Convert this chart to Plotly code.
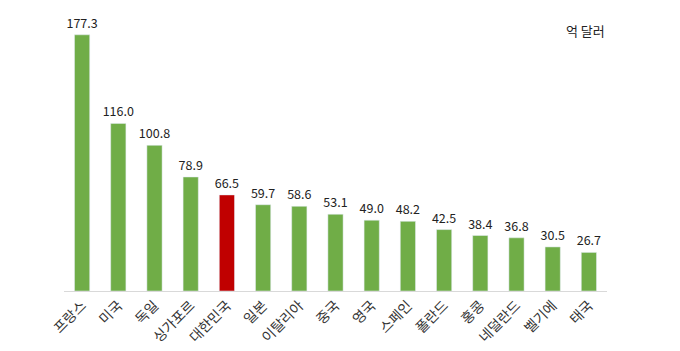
import plotly.graph_objects as go

countries = ["프랑스", "미국", "독일", "싱가포르", "대한민국", "일본", "이탈리아", "중국",
             "영국", "스페인", "폴란드", "홍콩", "네덜란드", "벨기에", "태국"]
values = [177.3, 116.0, 100.8, 78.9, 66.5, 59.7, 58.6, 53.1, 49.0, 48.2, 42.5, 38.4, 36.8, 30.5, 26.7]
highlight = "대한민국"
unit_label = "억 달러"

colors = ["#C00000" if c == highlight else "#70AD47" for c in countries]

fig = go.Figure(go.Bar(
    x=countries, y=values, marker_color=colors, width=0.42,
    text=[f"{v:.1f}" for v in values], textposition="outside",
    textfont=dict(size=12.5, color="#222222"), constraintext="none",
    cliponaxis=False,
))
fig.update_layout(
    width=680, height=351,
    margin=dict(l=64, r=73, t=2, b=60),
    paper_bgcolor="white", plot_bgcolor="white",
    font=dict(family="Noto Sans CJK KR", color="#333333"),
    showlegend=False,
    xaxis=dict(tickangle=-45, tickfont=dict(size=14, color="#333333"),
               showline=True, linecolor="#D9D9D9", linewidth=1, ticks=""),
    yaxis=dict(range=[0, 200], visible=False),
    annotations=[dict(text=unit_label, xref="paper", yref="paper", x=1.0, y=0.90,
                      xanchor="right", yanchor="middle", showarrow=False,
                      font=dict(size=13, color="#222222"))],
)
fig.write_html("out.html")
